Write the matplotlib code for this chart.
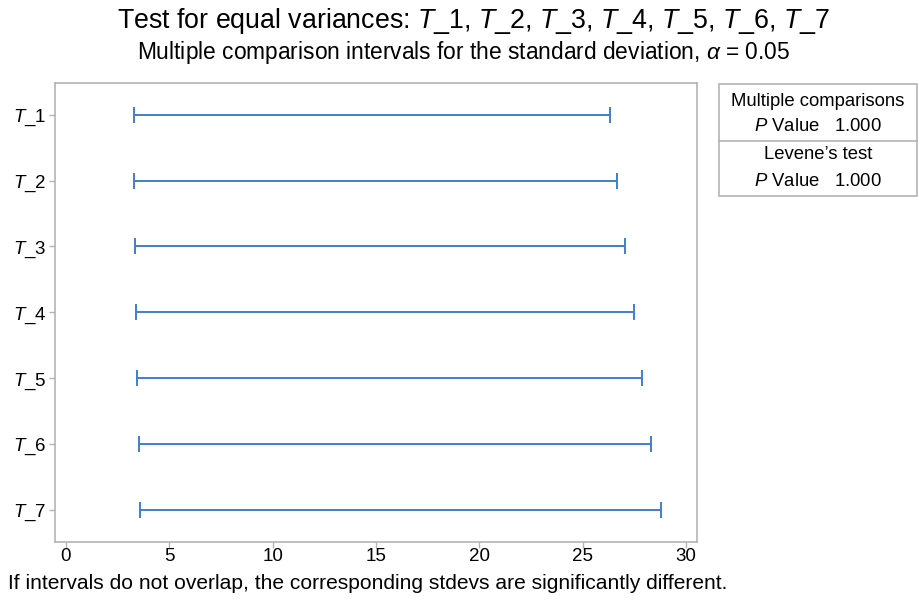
import matplotlib
matplotlib.use('Agg')
import matplotlib.pyplot as plt
from matplotlib.patches import Rectangle

plt.rcParams['font.family'] = ['Liberation Sans', 'DejaVu Sans']
plt.rcParams['mathtext.fontset'] = 'custom'
plt.rcParams['mathtext.rm'] = 'Liberation Sans'
plt.rcParams['mathtext.it'] = 'Liberation Sans:italic'

# interval bounds for the standard deviation of each sample
samples = ['T_1', 'T_2', 'T_3', 'T_4', 'T_5', 'T_6', 'T_7']
lower = [3.27, 3.29, 3.33, 3.40, 3.46, 3.52, 3.56]
upper = [26.33, 26.65, 27.04, 27.49, 27.87, 28.32, 28.79]
x_ticks = [0, 5, 10, 15, 20, 25, 30]
mc_pvalue = 1.000
levene_pvalue = 1.000

line_col = '#3f7fc8'
grey = '#b4b4b4'

fig = plt.figure(figsize=(9.2, 6.08), dpi=100)
ax = fig.add_axes([0.0598, 0.1086, 0.6978, 0.7554])

ypos = list(range(1, len(samples) + 1))
centers = [(lo + hi) / 2 for lo, hi in zip(lower, upper)]
err = [[c - lo for c, lo in zip(centers, lower)],
       [hi - c for c, hi in zip(centers, upper)]]
ax.errorbar(centers, ypos, xerr=err, fmt='none', ecolor=line_col,
            elinewidth=1.4, capsize=6, capthick=1.4)

ax.set_xlim(-0.53, 30.54)
ax.set_ylim(7.485, 0.515)
ax.set_xticks(x_ticks)
ax.set_xticklabels([str(t) for t in x_ticks])
ax.set_yticks(ypos)
ax.set_yticklabels(['$\\mathit{T}$_' + s.split('_')[1] for s in samples])

for sp in ax.spines.values():
    sp.set_color(grey)
    sp.set_linewidth(1.2)
ax.tick_params(axis='both', colors=grey, labelcolor='black', labelsize=13.5,
               length=4, width=1.0)
ax.tick_params(axis='x', pad=0.5)
ax.tick_params(axis='y', pad=2)

# titles
fig.text(0.515, 0.966, 'Test for equal variances: ' +
         ', '.join('$\\mathit{T}$_' + s.split('_')[1] for s in samples),
         ha='center', va='center', fontsize=19.3)
fig.text(0.504, 0.913, 'Multiple comparison intervals for the standard deviation, '
         '$\\alpha$ = 0.05', ha='center', va='center', fontsize=16.4)

fig.text(0.009, 0.041, 'If intervals do not overlap, the corresponding stdevs '
         'are significantly different.', ha='left', va='center', fontsize=15.1)

# p-value summary box
bx0, bx1 = 719 / 920, 917 / 920
by_top, by_mid, by_bot = 1 - 84 / 608, 1 - 141 / 608, 1 - 196 / 608
fig.add_artist(Rectangle((bx0, by_bot), bx1 - bx0, by_top - by_bot,
                         transform=fig.transFigure, fill=False,
                         edgecolor=grey, linewidth=1.2))
fig.add_artist(plt.Line2D([bx0, bx1], [by_mid, by_mid], transform=fig.transFigure,
                          color=grey, linewidth=1.2))
cx = (bx0 + bx1) / 2
fs = 13.3
fig.text(cx, 1 - 102 / 608, 'Multiple comparisons', ha='center', va='center', fontsize=fs)
fig.text(cx, 1 - 127 / 608, '$\\mathit{P}$ Value   %.3f' % mc_pvalue,
         ha='center', va='center', fontsize=fs)
fig.text(cx, 1 - 155 / 608, 'Levene\u2019s test', ha='center', va='center', fontsize=fs)
fig.text(cx, 1 - 181 / 608, '$\\mathit{P}$ Value   %.3f' % levene_pvalue,
         ha='center', va='center', fontsize=fs)

fig.savefig('out.png', dpi=100)
